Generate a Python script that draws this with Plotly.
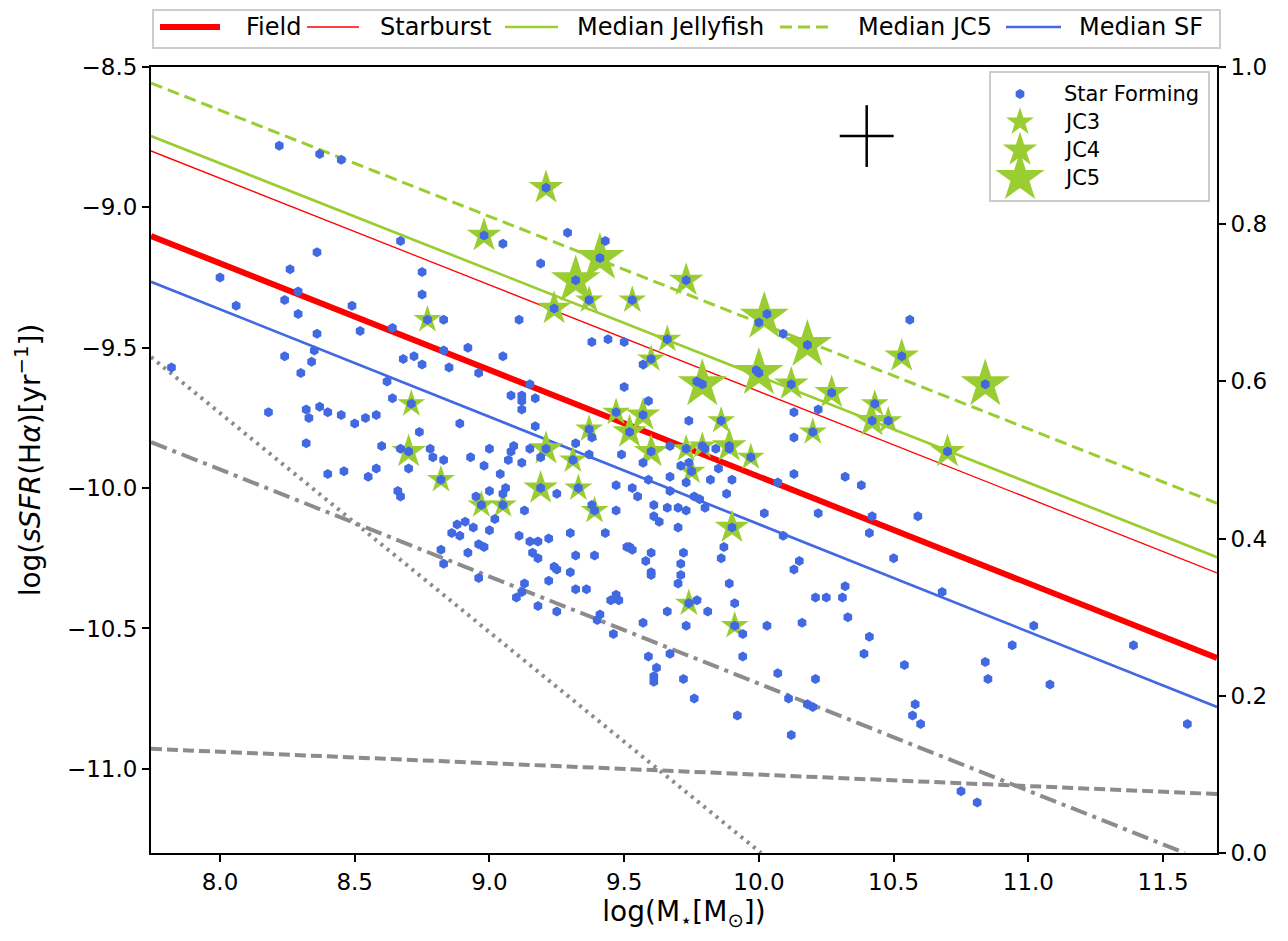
import plotly.graph_objects as go

# ---------------- data ----------------
# Star-forming galaxies: (log M*, log sSFR)
star_forming = [
(8.22,-8.78),(8.37,-8.81),(8.45,-8.83),(9.21,-8.93),(8.98,-9.10),(9.05,-9.13),(8.67,-9.12),(9.19,-9.20),(8.36,-9.16),(8.00,-9.25),
(8.26,-9.22),(8.29,-9.30),(8.24,-9.33),(8.06,-9.35),(8.29,-9.38),(8.36,-9.45),(8.35,-9.51),(8.34,-9.55),(8.24,-9.53),(8.30,-9.59),
(7.82,-9.57),(8.75,-9.23),(8.75,-9.31),(8.77,-9.40),(8.83,-9.40),(8.49,-9.35),(8.52,-9.44),(8.64,-9.43),(8.83,-9.51),(8.92,-9.50),
(8.85,-9.57),(8.96,-9.59),(8.68,-9.54),(8.72,-9.53),(8.75,-9.56),(9.05,-9.53),(9.11,-9.40),(8.62,-9.62),(8.64,-9.68),(8.71,-9.70),
(9.08,-9.67),(9.12,-9.67),(9.12,-9.69),(9.12,-9.72),(9.17,-9.68),(9.15,-9.63),(9.17,-9.78),(8.18,-9.73),(8.32,-9.72),(8.33,-9.75),
(8.37,-9.71),(8.40,-9.73),(8.45,-9.74),(8.50,-9.77),(8.54,-9.75),(8.58,-9.74),(8.89,-9.77),(8.74,-9.80),(8.32,-9.84),(8.60,-9.85),
(8.70,-9.87),(8.67,-9.86),(8.78,-9.86),(8.79,-9.89),(8.83,-9.90),(8.70,-9.93),(8.82,-9.97),(8.40,-9.95),(8.46,-9.94),(8.55,-9.96),
(8.58,-9.93),(8.66,-10.01),(8.67,-10.03),(8.93,-9.89),(8.98,-9.92),(9.00,-9.86),(9.07,-9.90),(9.08,-9.87),(9.09,-9.85),(9.12,-9.91),
(9.15,-9.86),(9.19,-9.89),(9.21,-9.86),(9.19,-10.00),(9.04,-9.95),(9.00,-10.01),(8.95,-10.03),(8.97,-10.06),(9.05,-10.06),(9.06,-10.00),
(9.05,-10.02),(9.13,-10.08),(9.02,-10.11),(8.88,-10.13),(8.91,-10.12),(8.94,-10.14),(9.00,-10.15),(8.86,-10.16),(8.89,-10.17),(8.96,-10.20),
(8.98,-10.21),(8.82,-10.22),(8.92,-10.23),(8.83,-10.27),(9.11,-10.17),(9.15,-10.19),(9.18,-10.19),(9.22,-10.18),(9.16,-10.23),(9.18,-10.25),
(9.22,-10.33),(8.96,-10.32),(9.13,-10.34),(9.12,-10.37),(9.10,-10.39),(9.18,-10.42),(9.32,-9.26),(9.41,-9.18),(9.43,-9.12),(9.29,-9.09),
(9.24,-9.36),(9.37,-9.33),(9.53,-9.33),(9.73,-9.26),(10.00,-9.41),(10.03,-9.38),(10.09,-9.45),(10.18,-9.49),(9.66,-9.47),(9.60,-9.54),
(9.57,-9.56),(9.38,-9.48),(9.44,-9.47),(9.50,-9.48),(9.77,-9.62),(9.79,-9.63),(9.99,-9.58),(10.00,-9.59),(10.12,-9.63),(10.27,-9.66),
(10.13,-9.73),(10.22,-9.72),(10.20,-9.80),(10.13,-9.82),(10.32,-9.96),(10.07,-9.98),(10.22,-10.09),(10.09,-10.17),(9.90,-10.14),(9.87,-10.21),
(9.50,-9.64),(9.59,-9.69),(9.74,-9.76),(9.47,-9.73),(9.52,-9.80),(9.57,-9.74),(9.37,-9.79),(9.38,-9.82),(9.31,-9.90),(9.32,-9.84),
(9.37,-9.88),(9.60,-9.87),(9.57,-9.91),(9.49,-9.88),(9.67,-9.85),(9.73,-9.86),(9.79,-9.85),(9.80,-9.86),(9.86,-9.76),(9.89,-9.85),
(9.89,-9.86),(9.84,-9.86),(9.97,-9.89),(9.74,-9.91),(9.71,-9.92),(9.75,-9.94),(9.85,-9.93),(9.90,-9.97),(9.82,-9.97),(9.73,-9.98),
(9.67,-9.96),(9.59,-9.97),(9.53,-10.00),(9.47,-9.99),(9.55,-10.03),(9.61,-10.06),(9.66,-10.07),(9.70,-10.07),(9.73,-10.08),(9.76,-10.03),
(9.78,-10.04),(9.80,-10.07),(9.88,-10.02),(9.67,-10.01),(9.61,-10.10),(9.63,-10.12),(9.70,-10.14),(9.47,-10.08),(9.43,-10.16),(9.30,-10.16),
(9.52,-10.21),(9.33,-10.00),(9.39,-10.08),(9.38,-10.06),(9.25,-10.02),(9.32,-10.24),(9.39,-10.24),(9.24,-10.28),(9.25,-10.29),(9.30,-10.30),
(9.32,-10.36),(9.36,-10.36),(9.25,-10.44),(9.41,-10.45),(9.40,-10.47),(9.46,-10.52),(9.47,-10.38),(9.45,-10.40),(9.48,-10.40),(9.51,-10.21),
(9.53,-10.22),(9.58,-10.26),(9.60,-10.23),(9.60,-10.30),(9.60,-10.31),(9.57,-10.48),(9.66,-10.44),(9.67,-10.59),(9.59,-10.60),(9.62,-10.64),
(9.61,-10.67),(9.61,-10.69),(9.72,-10.68),(9.76,-10.75),(9.72,-10.23),(9.71,-10.27),(9.71,-10.31),(9.70,-10.34),(9.74,-10.41),(9.77,-10.40),
(9.73,-10.49),(9.81,-10.44),(9.91,-10.49),(9.94,-10.52),(9.94,-10.60),(9.92,-10.81),(9.89,-10.34),(9.91,-10.41),(9.86,-10.25),(10.02,-10.09),
(10.13,-9.95),(10.38,-9.99),(10.42,-10.10),(10.41,-10.16),(10.59,-10.10),(10.50,-10.25),(10.15,-10.26),(10.13,-10.29),(10.21,-10.39),(10.25,-10.39),
(10.31,-10.39),(10.32,-10.35),(10.33,-10.46),(10.16,-10.48),(10.03,-10.49),(10.68,-10.37),(10.41,-10.53),(10.39,-10.59),(10.54,-10.63),(10.84,-10.62),
(10.85,-10.68),(10.07,-10.66),(10.21,-10.68),(10.11,-10.75),(10.18,-10.77),(10.20,-10.78),(10.12,-10.88),(10.58,-10.77),(10.57,-10.81),(10.60,-10.84),
(10.56,-9.40),(10.53,-9.53),(10.84,-9.63),(10.43,-9.70),(10.42,-9.76),(10.48,-9.76),(10.70,-9.87),(11.02,-10.49),(10.94,-10.56),(11.39,-10.56),
(11.08,-10.70),(11.59,-10.84),(10.75,-11.08),(10.81,-11.12),
]
sf_logm = [p[0] for p in star_forming]
sf_ssfr = [p[1] for p in star_forming]

# Jellyfish galaxies by class
jc3 = [(8.77,-9.40),(8.71,-9.70),(8.82,-9.97),(8.97,-10.06),(9.05,-10.06),(9.37,-9.33),(9.53,-9.33),(9.66,-9.47),
       (9.60,-9.54),(10.20,-9.80),(9.47,-9.73),(9.37,-9.79),(9.31,-9.90),(9.73,-9.86),(9.79,-9.85),(9.86,-9.76),
       (9.97,-9.89),(9.33,-10.00),(9.39,-10.08),(9.74,-10.41),(9.91,-10.49),(10.43,-9.70),(10.48,-9.76),(9.75,-9.94)]
jc4 = [(9.21,-8.93),(8.98,-9.10),(8.70,-9.87),(9.21,-9.86),(9.19,-10.00),(9.24,-9.36),(9.73,-9.26),(10.12,-9.63),
       (10.27,-9.66),(9.90,-10.14),(9.52,-9.80),(9.57,-9.74),(9.60,-9.87),(9.89,-9.85),(10.53,-9.53),(10.42,-9.76),
       (10.70,-9.87)]
jc5 = [(9.32,-9.26),(9.41,-9.18),(10.02,-9.39),(10.18,-9.49),(9.79,-9.63),(10.00,-9.59),(10.84,-9.63)]

# Relations (values at the plot edges)
line_x = [7.744, 11.70]
field_y = [-9.102, -10.605]
starburst_y = [-8.799, -10.302]
jelly_y = [-8.746, -10.246]
jc5_y = [-8.557, -10.054]
medsf_y = [-9.265, -10.780]
dotted_x, dotted_y = [7.744, 10.008], [-9.533, -11.30]
dashdot_x, dashdot_y = [7.744, 11.581], [-9.836, -11.30]
graydash_x, graydash_y = [7.744, 11.70], [-10.929, -11.090]

# typical error bar
err_x, err_y, err_dx, err_dy = [10.40], [-8.746], [0.10], [0.11]

x_ticks = [8.0, 8.5, 9.0, 9.5, 10.0, 10.5, 11.0, 11.5]
y_ticks = [-8.5, -9.0, -9.5, -10.0, -10.5, -11.0]
y2_ticks = [0.0, 0.2, 0.4, 0.6, 0.8, 1.0]

# ---------------- style / layout constants ----------------
RED = "#ff0000"
GREEN = "#9acd32"
BLUE = "#4169e1"
GRAY = "#8c8c8c"
FONT = "DejaVu Sans"
W, H = 1288, 941
PL, PT, PW, PH = 143, 59, 1066, 786   # plot area in pixels


def px(xp):
    return (xp - PL) / PW


def py(yp):
    return (PT + PH - yp) / PH


fig = go.Figure()

# grey reference relations
fig.add_trace(go.Scatter(x=dotted_x, y=dotted_y, mode="lines", showlegend=False,
                         line=dict(color=GRAY, width=4, dash="3px,5px")))
fig.add_trace(go.Scatter(x=dashdot_x, y=dashdot_y, mode="lines", showlegend=False,
                         line=dict(color=GRAY, width=4, dash="17px,6px,4px,6px")))
fig.add_trace(go.Scatter(x=graydash_x, y=graydash_y, mode="lines", showlegend=False,
                         line=dict(color=GRAY, width=4, dash="11px,5px")))

line_specs = [
    ("Field", field_y, dict(color=RED, width=6)),
    ("Starburst", starburst_y, dict(color=RED, width=1.3)),
    ("Median Jellyfish", jelly_y, dict(color=GREEN, width=2.7)),
    ("Median JC5", jc5_y, dict(color=GREEN, width=3, dash="12px,6px")),
    ("Median SF", medsf_y, dict(color=BLUE, width=2.7)),
]
for name, ys, ln in line_specs:
    fig.add_trace(go.Scatter(x=line_x, y=ys, mode="lines", name=name, showlegend=False, line=ln))

star_specs = [("JC3", jc3, 21), ("JC4", jc4, 26), ("JC5", jc5, 37)]
for name, pts, size in star_specs:
    fig.add_trace(go.Scatter(x=[p[0] for p in pts], y=[p[1] for p in pts], mode="markers",
                             name=name, showlegend=False,
                             marker=dict(symbol="star", size=size, color=GREEN, line=dict(width=0))))

fig.add_trace(go.Scatter(x=sf_logm, y=sf_ssfr, mode="markers", name="Star Forming", showlegend=False,
                         marker=dict(symbol="hexagon", size=10, color=BLUE, line=dict(width=0))))

fig.add_trace(go.Scatter(x=err_x, y=err_y, mode="markers", showlegend=False,
                         marker=dict(size=1, color="black"),
                         error_x=dict(type="data", array=err_dx, color="black", thickness=2.5, width=0),
                         error_y=dict(type="data", array=err_dy, color="black", thickness=2.5, width=0)))

# invisible trace that carries the right-hand axis
fig.add_trace(go.Scatter(x=[8.0], y=[0.5], yaxis="y2", mode="markers", showlegend=False,
                         marker=dict(opacity=0), hoverinfo="skip"))

# ---------- legend inside the axes (symbols on a hidden overlay axis) ----------
leg2_rows = [("Star Forming", "hexagon", 10, BLUE, 86),
             ("JC3", "star", 21, GREEN, 114),
             ("JC4", "star", 26, GREEN, 142),
             ("JC5", "star", 37, GREEN, 170)]
annotations = []
for label, sym, size, col, yrow in leg2_rows:
    fig.add_trace(go.Scatter(x=[px(1012)], y=[py(yrow)], xaxis="x3", yaxis="y3", mode="markers",
                             showlegend=False, hoverinfo="skip",
                             marker=dict(symbol=sym, size=size, color=col, line=dict(width=0))))
    annotations.append(dict(x=px(1054), y=py(yrow), xref="paper", yref="paper", text=label,
                            showarrow=False, xanchor="left", yanchor="middle",
                            font=dict(size=21, family=FONT, color="black")))

shapes = [dict(type="rect", xref="paper", yref="paper", x0=px(982), x1=px(1201), y0=py(193), y1=py(64),
               line=dict(color="#cccccc", width=2), fillcolor="rgba(0,0,0,0)", layer="above")]

# ---------- legend above the axes ----------
shapes.append(dict(type="rect", xref="paper", yref="paper", x0=px(145), x1=px(1212), y0=py(40), y1=py(2),
                   line=dict(color="#cccccc", width=2), fillcolor="white", layer="above"))
LEG1_Y = 19
leg1_pos = [(152, 212, 236), (299, 351, 370), (497, 550, 567), (772, 826, 848), (998, 1053, 1069)]
for (name, _, ln), (lx0, lx1, tx) in zip(line_specs, leg1_pos):
    shapes.append(dict(type="line", xref="paper", yref="paper", x0=px(lx0), x1=px(lx1),
                       y0=py(LEG1_Y), y1=py(LEG1_Y),
                       line=dict(color=ln["color"], width=ln["width"], dash=ln.get("dash", "solid")),
                       layer="above"))
    annotations.append(dict(x=px(tx), y=py(LEG1_Y), xref="paper", yref="paper", text=name,
                            showarrow=False, xanchor="left", yanchor="middle",
                            font=dict(size=24, family=FONT, color="black")))

axis_common = dict(showline=True, linecolor="black", linewidth=2,
                   ticks="outside", ticklen=7, tickwidth=2, tickcolor="black",
                   showgrid=False, zeroline=False, tickfont=dict(size=23))

fig.update_layout(
    width=W, height=H,
    margin=dict(l=PL, r=W - PL - PW, t=PT, b=H - PT - PH),
    paper_bgcolor="white", plot_bgcolor="white",
    font=dict(family=FONT, color="black", size=23),
    showlegend=False,
    xaxis=dict(range=[7.744, 11.70], tickvals=x_ticks, ticktext=[f"{v:.1f}" for v in x_ticks],
               mirror=True,
               title=dict(text="log(M<sub>⋆</sub>[M<sub>⊙</sub>])", font=dict(size=28), standoff=8),
               **axis_common),
    yaxis=dict(range=[-11.30, -8.4999], tickvals=y_ticks,
               ticktext=[("−" + f"{abs(v):.1f}") for v in y_ticks],
               mirror=True,
               title=dict(text="log(<i>sSFR</i>(H<i>α</i>)[yr<sup>−1</sup>])", font=dict(size=28), standoff=18),
               **axis_common),
    yaxis2=dict(range=[0, 1], overlaying="y", side="right", tickvals=y2_ticks,
                ticktext=[f"{v:.1f}" for v in y2_ticks], **axis_common),
    xaxis3=dict(range=[0, 1], overlaying="x", anchor="y3", visible=False),
    yaxis3=dict(range=[0, 1], overlaying="y", anchor="x3", visible=False),
    shapes=shapes,
    annotations=annotations,
)

fig.write_html("out.html")
